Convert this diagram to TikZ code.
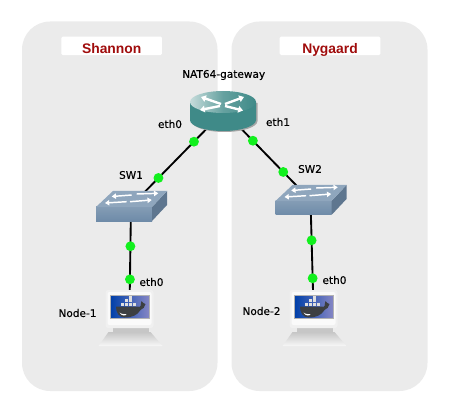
\documentclass[tikz,border=0pt]{standalone}
\usepackage{fontspec}
\usepackage{xcolor}
\setmainfont{DejaVu Sans}
\newfontfamily\titlefont{Liberation Sans}
\newfontfamily\labelfont[FakeBold=0.3]{DejaVu Sans}
\usetikzlibrary{arrows.meta}

\definecolor{panelgray}{HTML}{EBEBEB}
\definecolor{titlered}{HTML}{A00C0C}
\definecolor{linkgreen}{HTML}{12F01E}
\definecolor{routerteal}{HTML}{3F8A88}
\definecolor{switchblue}{HTML}{6E8BA8}
\definecolor{switchtop}{HTML}{8FA6BD}
\definecolor{whalegray}{HTML}{3C3F42}

\tikzset{
  panel/.style={fill=panelgray,rounded corners=21pt},
  titlebox/.style={fill=white,rounded corners=1pt,minimum width=75.4pt,minimum height=13.9pt,inner sep=0pt,
    text height=12.4pt,text depth=1.5pt,text=titlered,font=\titlefont\bfseries\fontsize{10.4}{12}\selectfont},
  lbl/.style={inner sep=0pt,font=\labelfont\fontsize{7.9}{9}\selectfont},
  hub/.style={inner sep=0pt,minimum size=0pt,outer sep=0pt},
  dot/.style={circle,fill=linkgreen,inner sep=0pt,minimum size=7.4pt},
  link/.style={line width=1.4pt,black},
  tip/.style={white,line width=1.1pt,-{Triangle[length=3.2pt,width=4pt]}},
  bigtip/.style={white,line width=1.8pt,-{Triangle[length=3.6pt,width=5pt]}},
  pics/routerbox/.style={code={\begin{scope}[yscale=-1]
    \fill [gray!70] (-31.5,-8) -- (-31.5,10) arc[start angle=180,end angle=0,x radius=33,y radius=11] -- (34.5,-8) -- cycle;
    \fill [routerteal] (-33,-9) -- (-33,9) arc[start angle=180,end angle=0,x radius=33,y radius=11] -- (33,-9) -- cycle;
    \shade [left color=routerteal!30!white,right color=routerteal,middle color=routerteal!80!white] (0,-9) ellipse [x radius=33,y radius=11];
    \draw [bigtip] (-2,-7) -- (-22,-14);
    \draw [bigtip] (2,-7) -- (21,-14);
    \draw [bigtip] (-3,-5) -- (-23,-1);
    \draw [bigtip] (2,-5) -- (20,-0.5);
  \end{scope}}},
  pics/switchbox/.style={code={\begin{scope}[yscale=-1]
    \shade [top color=switchblue!85!white,bottom color=switchblue] (-35,1) -- (21,1) -- (21,15) -- (-35,15) -- cycle;
    \fill [switchblue!85!black] (21,1) -- (36,-15) -- (36,-1) -- (21,15) -- cycle;
    \fill [switchtop] (-35,1) -- (-18,-15) -- (36,-15) -- (21,1) -- cycle;
    \draw [tip] (0.7,-11) -- (-19.3,-9.5);
    \draw [tip] (5.7,-12) -- (27.3,-12.7);
    \draw [tip] (-4.3,-4.3) -- (-26,-3);
    \draw [tip] (-1,-4.3) -- (20.7,-6);
  \end{scope}}},
  pics/hostbox/.style={code={\begin{scope}[yscale=-1]
    % stand
    \shade [top color=gray!45,bottom color=gray!6] (-21,23) -- (21,23) -- (33,37) -- (-31,37) -- cycle;
    \fill [gray!45] (-17,19) rectangle (19,23);
    % monitor
    \fill [gray!12,rounded corners=2pt] (-24,-19) rectangle (24,19);
    \fill [gray!4,rounded corners=1.5pt] (-22,-17) rectangle (22,16);
    \shade [left color=blue!55!black!75!cyan,right color=blue!35!gray!70!white,draw=gray!60,line width=0.4pt] (-19,-14) rectangle (20,9.5);
    % whale
    \foreach \cx in {-9,-5,-1,3} \fill [gray!25] (\cx,-3.2) rectangle +(3.4,-3.1);
    \foreach \cx in {-5,-1} \fill [gray!25] (\cx,-6.8) rectangle +(3.4,-3.1);
    \fill [gray!25] (-1,-10.4) rectangle +(3.4,-3);
    \fill [whalegray] (-13.5,-2.5) -- (8.5,-2.5) .. controls (9.5,-1.5) and (10.5,-2) .. (11,-3)
      .. controls (11.5,-5) and (11.5,-7) .. (12,-8) .. controls (13,-6.5) and (14,-5.5) .. (16,-5)
      .. controls (16,-2) and (13,0) .. (11,1) .. controls (8,6) and (3,8.5) .. (-5,8.5)
      .. controls (-11,8.5) and (-13.5,3) .. (-13.5,-2.5) -- cycle;
    \fill [white] (-10,3.5) .. controls (-7,6) and (-5,4.5) .. (-3,5) .. controls (-4,7.5) and (-8,7) .. (-10,3.5) -- cycle;
  \end{scope}}}
}

\begin{document}
\begin{tikzpicture}[x=0.75pt,y=0.75pt,yscale=-1,xscale=1]
\useasboundingbox (0,0) rectangle (449,413);

\fill [panel] (22,21.5) rectangle (217.5,391);
\fill [panel] (231.5,21.5) rectangle (427.5,391);

\node (shannon) [titlebox] at (111.7,45.8) {Shannon};
\node (nygaard) [titlebox] at (330,45.8) {Nygaard};

\node (router) [hub] at (224,111) {};
\node (sw1) [hub] at (131,206) {};
\node (sw2) [hub] at (310.5,200) {};
\node (node1) [hub] at (129.5,309) {};
\node (node2) [hub] at (313.5,309) {};

\draw [link] (router) -- node [dot,pos=.323] (a1) {} node [dot,pos=.705] (a2) {} (sw1);
\draw [link] (router) -- node [dot,pos=.334] (b1) {} node [dot,pos=.685] (b2) {} (sw2);
\draw [link] (sw1) -- node [dot,pos=.391] (c1) {} node [dot,pos=.712] (c2) {} (node1);
\draw [link] (sw2) -- node [dot,pos=.37] (d1) {} node [dot,pos=.718] (d2) {} (node2);

\pic at (223,111) {routerbox};
\pic at (sw1) {switchbox};
\pic at (sw2) {switchbox};
\pic at (node1) {hostbox};
\pic at (node2) {hostbox};

\node (lgateway) [lbl] at (223.7,75) {NAT64-gateway};
\node (leth0) [lbl] at (170,124) {eth0};
\node (leth1) [lbl] at (278,122) {eth1};
\node (lsw1) [lbl] at (131,175) {SW1};
\node (lsw2) [lbl] at (310,169) {SW2};
\node (leth2) [lbl] at (151.5,282) {eth0};
\node (leth3) [lbl] at (334.5,280) {eth0};
\node (lnode1) [lbl] at (77.5,313) {Node-1};
\node (lnode2) [lbl] at (261.5,311) {Node-2};
\end{tikzpicture}
\end{document}
